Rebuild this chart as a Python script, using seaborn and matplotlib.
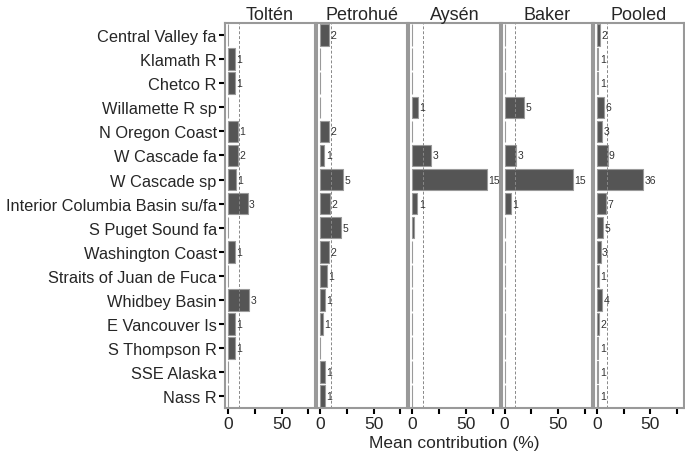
import pandas as pd
import numpy as np
import seaborn as sns
import matplotlib.pyplot as plt

groups = ["Central Valley fa", "Klamath R", "Chetco R", "Willamette R sp",
          "N Oregon Coast", "W Cascade fa", "W Cascade sp",
          "Interior Columbia Basin su/fa", "S Puget Sound fa", "Washington Coast",
          "Straits of Juan de Fuca", "Whidbey Basin", "E Vancouver Is",
          "S Thompson R", "SSE Alaska", "Nass R"]
rivers = ["Toltén", "Petrohué", "Aysén", "Baker", "Pooled"]

# mean contribution (%) per reporting group
tolten = [0, 6.8, 6.8, 0, 9.6, 9.6, 7.1, 18.5, 0, 6.5, 0, 19.8, 6.5, 6.5, 0, 0]
petrohue = [8.6, 0, 0, 0, 8.3, 4.0, 21.3, 9.6, 19.4, 8.0, 5.9, 4.6, 2.8, 0, 4.6, 4.6]
aysen = [0, 0, 0, 5.6, 0, 17.5, 70, 4.7, 1.9, 0, 0, 0, 0, 0, 0, 0]
baker = [0, 0, 0, 18, 0.3, 11, 64, 5.7, 0, 0, 0, 0, 0, 0, 0, 0]
pooled = [2.9, 1.6, 1.6, 6.7, 4.8, 10.2, 43.6, 8.9, 6.0, 3.8, 1.9, 5.1, 2.2, 1.6, 1.6, 1.6]

# number of fish assigned (labels next to bars)
n_tolten = [None, 1, 1, None, 1, 2, 1, 3, None, 1, None, 3, 1, 1, None, None]
n_petrohue = [2, None, None, None, 2, 1, 5, 2, 5, 2, 1, 1, 1, None, 1, 1]
n_aysen = [None, None, None, 1, None, 3, 15, 1, None, None, None, None, None, None, None, None]
n_baker = [None, None, None, 5, None, 3, 15, 1, None, None, None, None, None, None, None, None]
n_pooled = [2, 1, 1, 6, 3, 9, 36, 7, 5, 3, 1, 4, 2, 1, 1, 1]

vals = [tolten, petrohue, aysen, baker, pooled]
counts = [n_tolten, n_petrohue, n_aysen, n_baker, n_pooled]

rows = []
for r, v, n in zip(rivers, vals, counts):
    for g, x, c in zip(groups, v, n):
        rows.append({"river": r, "group": g, "contrib": x, "n": c})
df = pd.DataFrame(rows)

sns.set_style("white")
plt.rcParams['font.family'] = ['Liberation Sans', 'DejaVu Sans']

fig, axes = plt.subplots(1, 5, figsize=(6.85, 4.56), dpi=100, sharey=True)
fig.subplots_adjust(left=0.3285, right=0.9985, top=0.947, bottom=0.103, wspace=0.022)

for ax, r in zip(axes, rivers):
    d = df[df.river == r]
    sns.barplot(data=d, x="contrib", y="group", order=groups, orient="h",
                color="#555555", saturation=1, width=0.9, edgecolor="#9a9a9a",
                linewidth=0.8, ax=ax)
    ax.axvline(10, color="#888888", ls="--", lw=0.7, dashes=(3, 2))
    for i, (x, c) in enumerate(zip(d.contrib, d.n)):
        if c is not None and not pd.isna(c):
            ax.text(x + 1.2, i, str(int(c)), va="center", ha="left",
                    fontsize=7.5, color="#333333")
    ax.set_xlim(-2.8, 81.5)
    ax.set_xticks([0, 25, 50, 75])
    ax.set_xticklabels(["0", "", "50", ""])
    ax.set_title(r, fontsize=13, pad=3)
    ax.set_xlabel("")
    ax.set_ylabel("")
    for s in ax.spines.values():
        s.set_color("#999999")
        s.set_linewidth(1.5)
    ax.tick_params(axis="x", length=4, width=1.5, color="black",
                   labelsize=12.5, pad=2, bottom=True)
    ax.tick_params(axis="y", length=4, width=1.5, color="black",
                   labelsize=11.8, pad=2, left=True)

for ax in axes[1:]:
    ax.tick_params(axis="y", left=False)

fig.text(0.6635, 0.012, "Mean contribution (%)", ha="center", va="bottom", fontsize=12.5)

plt.savefig("out.png", dpi=100)
